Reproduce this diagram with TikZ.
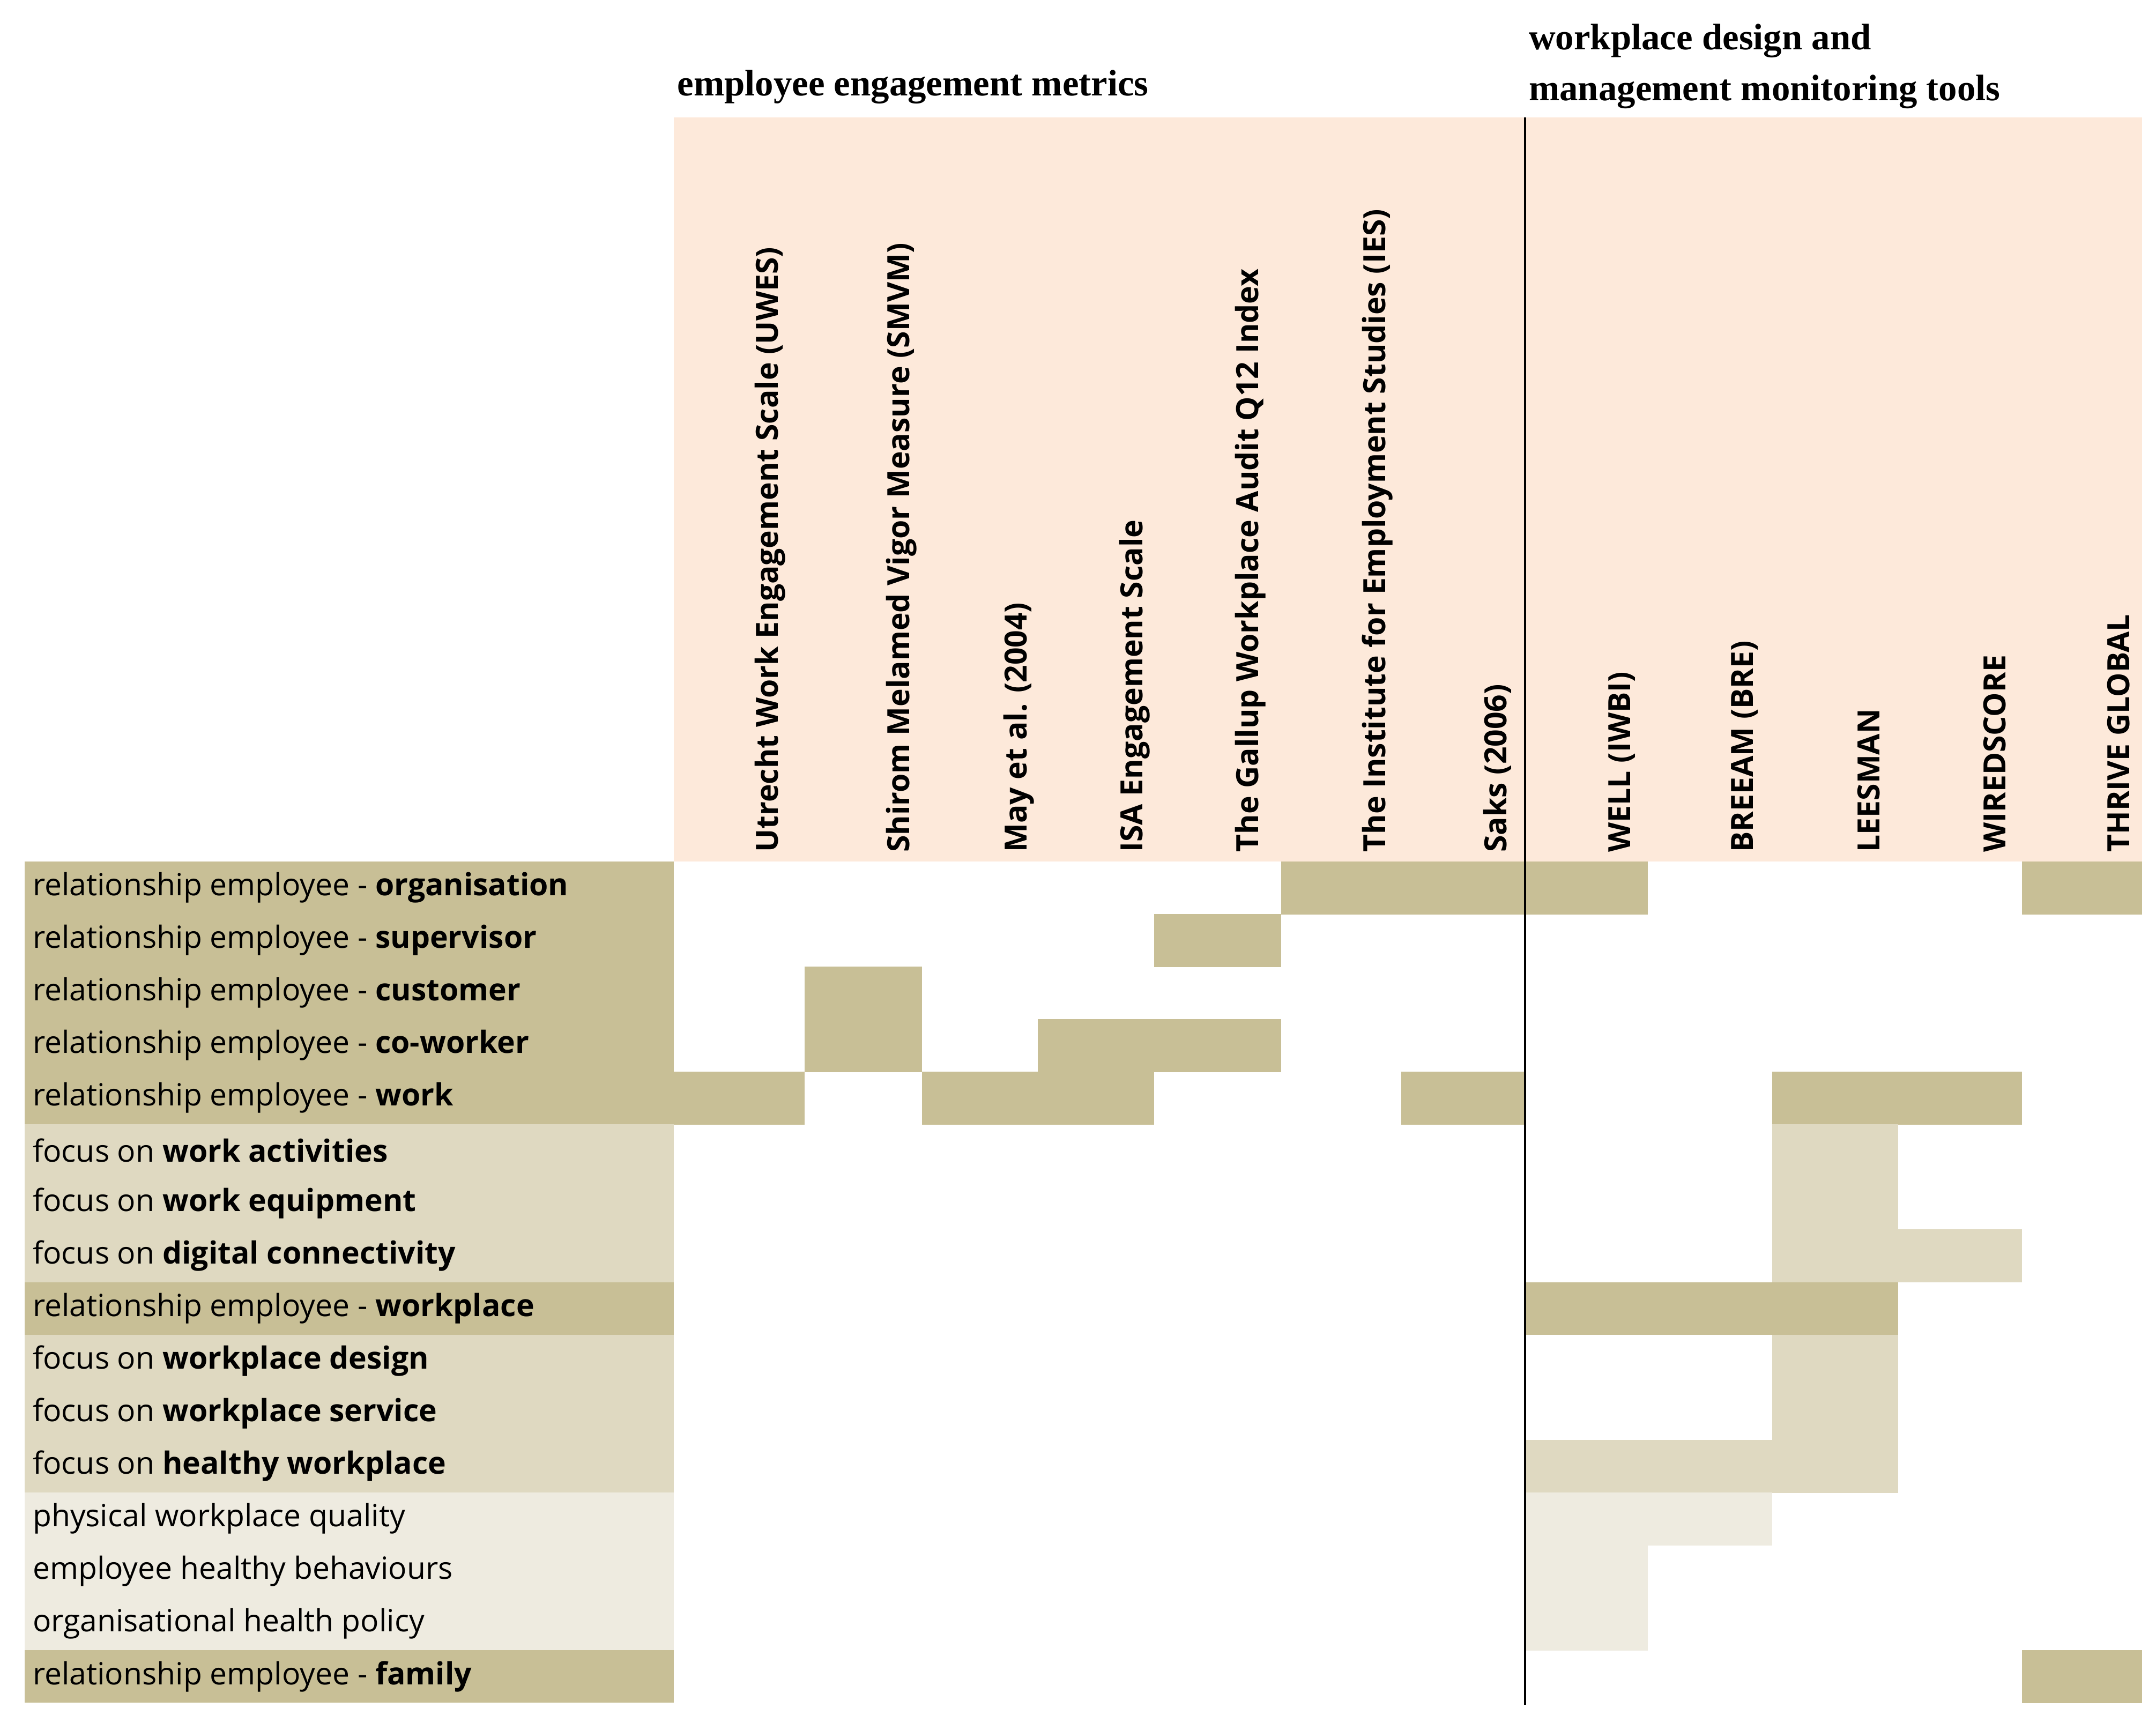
\documentclass[tikz,border=0pt]{standalone}
\usepackage{fontspec}
\setmainfont{Open Sans}
\newfontfamily\ttl{Liberation Serif}
\definecolor{dk}{HTML}{C8BF96}
\definecolor{md}{HTML}{DFD9C1}
\definecolor{lt}{HTML}{EEEBE0}
\definecolor{pk}{HTML}{FDE9DA}
\begin{document}
\begin{tikzpicture}[x=0.01cm,y=-0.01cm,
 lab/.style={anchor=west,font=\fontsize{6.3}{7}\selectfont,inner sep=0pt},
 hd/.style={rotate=90,anchor=west,font=\fontsize{6.3}{7}\selectfont\bfseries,inner sep=0pt},
 tt/.style={anchor=west,align=left,font=\ttl\fontsize{7.6}{10.5}\selectfont\bfseries,inner sep=0pt}]
\useasboundingbox (0,0) rectangle (1562,1248);
\fill[pk] (488,85) rectangle (1552,624);
\def\rowy#1{624+38.1*#1}
% label column
\foreach \r/\c in {0/dk,1/dk,2/dk,3/dk,4/dk,5/md,6/md,7/md,8/dk,9/md,10/md,11/md,12/lt,13/lt,14/lt,15/dk}
  \fill[\c] (18,{624+38.1*\r}) rectangle (488,{624+38.1*(\r+1)});
% cells: row, x1, x2, color
\foreach \r/\a/\b/\c in {0/928/1105/dk,0/1105/1194/dk,0/1465/1552/dk,1/836/928/dk,2/583/668/dk,3/583/668/dk,3/752/928/dk,4/488/583/dk,4/668/836/dk,4/1015/1105/dk,4/1284/1465/dk,5/1284/1375/md,6/1284/1375/md,7/1284/1465/md,8/1105/1375/dk,9/1284/1375/md,10/1284/1375/md,11/1105/1375/md,12/1105/1284/lt,13/1105/1194/lt,14/1105/1194/lt,15/1465/1552/dk}
  \fill[\c] (\a,{624+38.1*\r}) rectangle (\b,{624+38.1*(\r+1)+0.3});
\draw[line width=0.4pt] (1105,85) -- (1105,1235);
% labels
\foreach \r/\t in {0/{relationship employee - \textbf{organisation}},1/{relationship employee - \textbf{supervisor}},2/{relationship employee - \textbf{customer}},3/{relationship employee - \textbf{co-worker}},4/{relationship employee - \textbf{work}},5/{focus on \textbf{work activities}},6/{focus on \textbf{work equipment}},7/{focus on \textbf{digital connectivity}},8/{relationship employee - \textbf{workplace}},9/{focus on \textbf{workplace design}},10/{focus on \textbf{workplace service}},11/{focus on \textbf{healthy workplace}},12/{physical workplace quality},13/{employee healthy behaviours},14/{organisational health policy},15/{relationship employee - \textbf{family}}}
  \node[lab] (l\r) at (23,{624+38.1*\r+19}) {\t};
% headers
\foreach \i/\x/\t in {1/488/{Utrecht Work Engagement Scale (UWES)},2/583/{Shirom Melamed Vigor Measure (SMVM)},3/668/{May et al. (2004)},4/752/{ISA Engagement Scale},5/836/{The Gallup Workplace Audit Q12 Index},6/928/{The Institute for Employment Studies (IES)},7/1015/{Saks (2006)},8/1105/{WELL (IWBI)},9/1194/{BREEAM (BRE)},10/1284/{LEESMAN},11/1375/{WIREDSCORE},12/1465/{THRIVE GLOBAL}}
  \node[hd] (h\i) at (\x+70,618) {\t};
\node[tt] (t1) at (490,63) {employee engagement metrics};
\node[tt] (t2) at (1107,48) {workplace design and\\management monitoring tools};
\end{tikzpicture}
\end{document}
